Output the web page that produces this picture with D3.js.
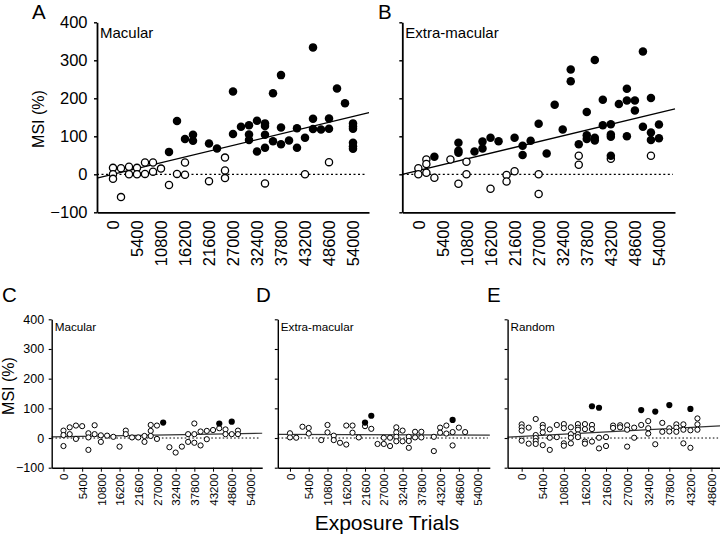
<!DOCTYPE html>
<html><head><meta charset="utf-8">
<script src="https://cdn.jsdelivr.net/npm/d3@7"></script>
<style>
body{margin:0;background:#fff}
svg{display:block}
text{font-family:"Liberation Sans",Arial,Helvetica,sans-serif;fill:#000}
</style>
</head><body>
<svg id="chart" width="720" height="535"></svg>
<script>
// ---------- DATA ----------
const yTicks = [-100, 0, 100, 200, 300, 400];
const xTicks54 = [0, 5400, 10800, 16200, 21600, 27000, 32400, 37800, 43200, 48600, 54000];
const xTicks48 = [0, 5400, 10800, 16200, 21600, 27000, 32400, 37800, 43200, 48600];

// A: Macular (trained)
const macularOpen = [[0,17],[0,0],[0,-12],[1800,-60],[1800,16],[3600,20],[3600,0],[5400,17],[5400,0],[7200,31],[7200,1],[9000,31],[9000,7],[10800,15],[12600,-28],[14400,1],[16200,31],[16200,-1],[21600,-18],[25200,44],[25200,10],[25200,-10],[34200,-24],[43200,0],[48600,32]];
const macularFilled = [[12600,59],[14400,140],[16200,93],[18000,104],[18000,88],[21600,81],[23400,68],[27000,218],[27000,106],[28800,125],[30600,129],[30600,105],[30600,90],[32400,141],[32400,60],[34200,134],[34200,127],[34200,104],[34200,70],[36000,213],[36000,87],[37800,261],[37800,123],[37800,79],[39600,89],[41400,121],[41400,70],[43200,96],[45000,334],[45000,146],[45000,119],[46800,118],[48600,147],[48600,120],[50400,226],[52200,187],[54000,134],[54000,126],[54000,120],[54000,83],[54000,74],[54000,67]];
const macularTrend = [[-3600,-10],[57600,162]];

// B: Extra-macular (trained)
const extraOpen = [[0,16],[0,0],[1800,39],[1800,27],[1800,4],[3600,-9],[7200,39],[9000,-25],[10800,33],[10800,0],[16200,-38],[19800,-2],[19800,-19],[21600,8],[27000,0],[27000,-52],[36000,49],[36000,25],[43200,41],[52200,49]];
const extraFilled = [[3600,46],[9000,83],[9000,62],[9000,57],[12600,60],[14400,86],[14400,68],[16200,96],[18000,87],[21600,96],[23400,75],[23400,51],[25200,88],[27000,133],[28800,55],[30600,183],[32400,118],[34200,276],[34200,245],[36000,79],[37800,164],[37800,103],[37800,93],[39600,301],[39600,96],[39600,89],[41400,196],[41400,129],[43200,132],[43200,105],[43200,99],[43200,49],[45000,185],[46800,225],[46800,194],[46800,100],[48600,194],[48600,168],[50400,323],[50400,125],[52200,201],[52200,110],[52200,90],[54000,131],[54000,95]];
const extraTrend = [[-3600,0],[57600,172]];

// C: Macular (control)
const ctrlMacularOpen = [[0,25],[0,10],[0,-27],[1800,36],[1800,13],[3600,42],[3600,-3],[5400,40],[7200,16],[7200,2],[7200,-40],[9000,43],[9000,13],[10800,9],[10800,-13],[12600,8],[14400,4],[16200,-29],[18000,25],[18000,13],[19800,2],[21600,2],[23400,7],[23400,-13],[25200,44],[25200,24],[25200,7],[27000,42],[27000,-3],[30600,-31],[32400,-49],[34200,-29],[36000,13],[36000,-13],[37800,49],[37800,13],[37800,-16],[39600,22],[39600,-25],[41400,24],[41400,-4],[43200,27],[45000,33],[46800,29],[46800,13],[48600,13],[50400,25],[50400,13]];
const ctrlMacularFilled = [[28800,52],[45000,49],[48600,55]];
const ctrlMacularTrend = [[-3400,4],[57400,16]];

// D: Extra-macular (control)
const ctrlExtraOpen = [[0,16],[0,2],[1800,1],[3600,38],[5400,34],[5400,15],[9000,-7],[10800,44],[10800,19],[12600,8],[12600,-7],[14400,-16],[16200,42],[16200,-22],[18000,42],[18000,18],[19800,2],[21600,40],[23400,31],[25200,-20],[27000,1],[27000,-20],[28800,1],[28800,-27],[30600,36],[30600,19],[30600,4],[30600,-11],[32400,25],[32400,-11],[34200,4],[34200,-10],[34200,-33],[36000,21],[36000,2],[37800,21],[37800,2],[41400,4],[41400,-44],[43200,35],[43200,18],[45000,42],[45000,15],[46800,20],[46800,-25],[48600,35],[50400,20]];
const ctrlExtraFilled = [[21600,52],[23400,75],[46800,61]];
const ctrlExtraTrend = [[-3500,12],[57500,10]];

// E: Random
const randomOpen = [[0,46],[0,36],[0,25],[0,-9],[1800,35],[1800,-19],[3600,64],[3600,10],[3600,0],[3600,-10],[3600,-20],[5400,44],[5400,35],[5400,19],[5400,-24],[7200,29],[7200,1],[7200,-40],[9000,44],[9000,3],[10800,47],[10800,33],[10800,-18],[10800,-26],[12600,36],[12600,13],[12600,1],[12600,-18],[14400,47],[14400,35],[14400,28],[14400,12],[14400,3],[16200,47],[16200,30],[16200,-12],[16200,-19],[18000,44],[18000,30],[18000,-12],[19800,1],[19800,-35],[21600,3],[21600,-27],[23400,42],[23400,34],[25200,43],[25200,36],[27000,43],[27000,28],[27000,-29],[28800,35],[28800,1],[30600,44],[32400,57],[32400,33],[32400,15],[34200,-21],[36000,51],[36000,21],[37800,33],[37800,22],[39600,46],[39600,35],[39600,21],[41400,46],[41400,28],[41400,-18],[43200,26],[43200,-33],[45000,66],[45000,46],[45000,28]];
const randomFilled = [[18000,107],[19800,102],[30600,94],[34200,89],[37800,111],[43200,98]];
const randomTrend = [[-3600,3],[50800,41]];

const panelLetters = ["A","B","C","D","E"];
const panelTitles = ["Macular","Extra-macular","Macular","Extra-macular","Random"];
const yLabel = "MSI (%)";
const xLabel = "Exposure Trials";

// ---------- LAYOUT ----------
const topStyle = {y0:212.3, y1:22.3, r:3.6, sw:1.3, axisW:1.8, tickFs:16.5, yFs:16.5, xLabOff:8, xTick:0, yTickPad:6.5, titleFs:15, titleY:37.5, trendW:1.3, dash:"2,2.5", zeroW:1.2};
const botStyle = {y0:467.7, y1:319.3, r:2.6, sw:1, axisW:1.4, tickFs:11.5, yFs:12.5, xLabOff:6, xTick:4, yTickPad:4.5, titleFs:11.7, titleY:331, trendW:1.2, dash:"1.6,2.2", zeroW:1};

const panels = [
  {st:topStyle, xr:[97,369], xd:[-3600,57600], ticks:xTicks54, showY:true, open:macularOpen, filled:macularFilled, trend:macularTrend, letterX:32, letterY:19},
  {st:topStyle, xr:[402.3,675], xd:[-3600,57600], ticks:xTicks54, showY:false, open:extraOpen, filled:extraFilled, trend:extraTrend, letterX:378, letterY:19},
  {st:botStyle, xr:[51.7,262.2], xd:[-3400,57400], ticks:xTicks54, showY:true, open:ctrlMacularOpen, filled:ctrlMacularFilled, trend:ctrlMacularTrend, letterX:2, letterY:302},
  {st:botStyle, xr:[277.8,489.8], xd:[-3500,57500], ticks:xTicks54, showY:false, open:ctrlExtraOpen, filled:ctrlExtraFilled, trend:ctrlExtraTrend, letterX:256, letterY:302},
  {st:botStyle, xr:[507.6,720.1], xd:[-3600,50800], ticks:xTicks48, showY:false, open:randomOpen, filled:randomFilled, trend:randomTrend, letterX:487, letterY:302}
];

const svg = d3.select("#chart");

panels.forEach((p, i) => {
  const s = p.st;
  const x = d3.scaleLinear().domain(p.xd).range(p.xr);
  const y = d3.scaleLinear().domain([-100, 400]).range([s.y0, s.y1]);
  const g = svg.append("g");

  // zero dotted line
  g.append("line")
    .attr("x1", p.xr[0]).attr("x2", p.xr[1] - 2)
    .attr("y1", y(0)).attr("y2", y(0))
    .attr("stroke", "#000").attr("stroke-width", s.zeroW)
    .attr("stroke-dasharray", s.dash);

  // trend line
  g.append("line")
    .attr("x1", x(p.trend[0][0])).attr("y1", y(p.trend[0][1]))
    .attr("x2", x(p.trend[1][0])).attr("y2", y(p.trend[1][1]))
    .attr("stroke", i < 2 ? "#000" : "#333").attr("stroke-width", s.trendW);

  // y axis
  const ya = d3.axisLeft(y).tickValues(yTicks).tickSize(3).tickSizeOuter(0).tickPadding(s.yTickPad);
  if (!p.showY) ya.tickFormat("");
  const yg = g.append("g").attr("transform", `translate(${p.xr[0]},0)`).call(ya);
  yg.select(".domain").attr("stroke-width", s.axisW);
  yg.selectAll(".tick line").attr("stroke-width", s.axisW * 0.8);
  yg.selectAll("text").attr("font-size", s.yFs).attr("font-family", '"Liberation Sans",Arial,sans-serif');

  // x axis
  const xa = d3.axisBottom(x).tickValues(p.ticks).tickSize(s.xTick).tickSizeOuter(0).tickFormat(d3.format("d"));
  const xg = g.append("g").attr("transform", `translate(0,${s.y0})`).call(xa);
  xg.select(".domain").attr("stroke-width", s.axisW);
  xg.selectAll(".tick line").attr("stroke-width", 1);
  xg.selectAll("text")
    .attr("font-size", s.tickFs).attr("font-family", '"Liberation Sans",Arial,sans-serif')
    .attr("transform", "rotate(-90)")
    .attr("text-anchor", "end")
    .attr("x", -s.xLabOff).attr("y", 0).attr("dy", "0.36em");

  // points
  g.selectAll("circle.open").data(p.open).join("circle")
    .attr("class", "open")
    .attr("cx", d => x(d[0])).attr("cy", d => y(d[1]))
    .attr("r", s.r).attr("fill", "#fff").attr("stroke", "#000").attr("stroke-width", s.sw);
  g.selectAll("circle.filled").data(p.filled).join("circle")
    .attr("class", "filled")
    .attr("cx", d => x(d[0])).attr("cy", d => y(d[1]))
    .attr("r", s.r + s.sw / 2).attr("fill", "#000");

  // panel title
  g.append("text").attr("x", p.xr[0] + 3).attr("y", s.titleY)
    .attr("font-size", s.titleFs).text(panelTitles[i]);

  // letter
  svg.append("text").attr("x", p.letterX).attr("y", p.letterY)
    .attr("font-size", 20.5).text(panelLetters[i]);
});

// axis titles
svg.append("text").attr("transform", "translate(44,119) rotate(-90)")
  .attr("text-anchor", "middle").attr("font-size", 16).text(yLabel);
svg.append("text").attr("transform", "translate(14,386) rotate(-90)")
  .attr("text-anchor", "middle").attr("font-size", 16).text(yLabel);
svg.append("text").attr("x", 387).attr("y", 530)
  .attr("text-anchor", "middle").attr("font-size", 21).text(xLabel);
</script>
</body></html>
